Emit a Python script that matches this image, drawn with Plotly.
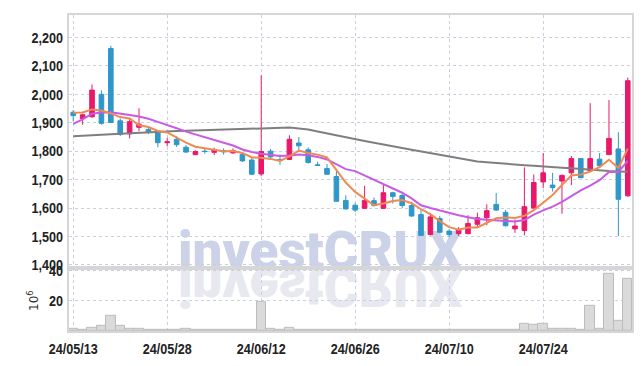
import plotly.graph_objects as go

dates = ["24/05/13", "24/05/14", "24/05/16", "24/05/17", "24/05/20", "24/05/21", "24/05/22", "24/05/23", "24/05/24", "24/05/27",
         "24/05/28", "24/05/29", "24/05/30", "24/05/31", "24/06/03", "24/06/04", "24/06/05", "24/06/07", "24/06/10", "24/06/11",
         "24/06/12", "24/06/13", "24/06/14", "24/06/17", "24/06/18", "24/06/19", "24/06/20", "24/06/21", "24/06/24", "24/06/25",
         "24/06/26", "24/06/27", "24/06/28", "24/07/01", "24/07/02", "24/07/03", "24/07/04", "24/07/05", "24/07/08", "24/07/09",
         "24/07/10", "24/07/11", "24/07/12", "24/07/15", "24/07/16", "24/07/17", "24/07/18", "24/07/19", "24/07/22", "24/07/23",
         "24/07/24", "24/07/25", "24/07/26", "24/07/29", "24/07/30", "24/07/31", "24/08/01", "24/08/02", "24/08/05", "24/08/06"]

open_ = [1937, 1915, 1921, 2000, 2161, 1907, 1861, 1884, 1876, 1870,
         1830, 1842, 1814, 1788, 1800, 1796, 1802, 1794, 1789, 1769,
         1720, 1800, 1771, 1771, 1829, 1805, 1752, 1739, 1711, 1627,
         1610, 1599, 1626, 1599, 1654, 1644, 1609, 1577, 1507, 1563,
         1519, 1510, 1510, 1543, 1566, 1613, 1585, 1527, 1521, 1600,
         1692, 1681, 1695, 1724, 1774, 1731, 1772, 1788, 1808, 1643]
high = [1945, 1932, 2035, 2014, 2171, 1915, 1915, 1951, 1887, 1873,
        1847, 1853, 1822, 1803, 1808, 1812, 1810, 1810, 1797, 1778,
        2067, 1808, 1789, 1856, 1850, 1814, 1763, 1755, 1731, 1645,
        1617, 1678, 1637, 1681, 1657, 1650, 1622, 1594, 1583, 1573,
        1526, 1533, 1575, 1584, 1613, 1653, 1594, 1560, 1743, 1718,
        1793, 1724, 1718, 1783, 1776, 1969, 1793, 1980, 1867, 2059]
low = [1905, 1893, 1918, 1893, 1900, 1853, 1845, 1870, 1860, 1814,
       1817, 1815, 1794, 1786, 1791, 1786, 1788, 1791, 1762, 1718,
       1712, 1775, 1752, 1769, 1805, 1757, 1749, 1718, 1622, 1595,
       1586, 1597, 1605, 1597, 1616, 1600, 1570, 1502, 1504, 1513,
       1498, 1502, 1508, 1533, 1540, 1590, 1535, 1513, 1504, 1598,
       1670, 1658, 1580, 1681, 1705, 1728, 1746, 1786, 1502, 1640]
close = [1925, 1928, 2015, 1898, 1901, 1859, 1904, 1895, 1866, 1830,
         1833, 1823, 1797, 1799, 1799, 1805, 1798, 1802, 1766, 1719,
         1799, 1780, 1768, 1842, 1819, 1760, 1750, 1719, 1624, 1597,
         1593, 1627, 1609, 1654, 1641, 1609, 1572, 1504, 1569, 1515,
         1507, 1525, 1546, 1566, 1591, 1593, 1538, 1537, 1605, 1690,
         1724, 1672, 1715, 1774, 1707, 1774, 1749, 1845, 1631, 2048]

ma_short = [1935, 1936, 1947, 1943, 1933, 1920, 1915, 1891, 1885, 1871,
            1866, 1849, 1830, 1816, 1810, 1805, 1800, 1801, 1794, 1778,
            1777, 1773, 1766, 1782, 1802, 1794, 1788, 1778, 1734, 1690,
            1657, 1632, 1610, 1616, 1625, 1628, 1617, 1596, 1579, 1554,
            1533, 1524, 1532, 1532, 1547, 1564, 1567, 1565, 1573, 1593,
            1619, 1646, 1681, 1715, 1718, 1728, 1744, 1770, 1741, 1809]
ma_mid = [1896, 1912, 1932, 1936, 1937, 1931, 1927, 1922, 1914, 1903,
          1893, 1881, 1869, 1859, 1850, 1840, 1831, 1820, 1806, 1797,
          1791, 1786, 1783, 1785, 1788, 1786, 1780, 1771, 1755, 1737,
          1730, 1715, 1701, 1684, 1670, 1654, 1634, 1610, 1600, 1591,
          1583, 1575, 1568, 1562, 1559, 1557, 1555, 1553, 1558, 1577,
          1592, 1605, 1622, 1643, 1662, 1679, 1698, 1727, 1727, 1766]
ma_long = [1853, 1855, 1858, 1859, 1860, 1861, 1863, 1865, 1866, 1868,
           1870, 1871, 1872, 1873, 1875, 1876, 1877, 1878, 1879, 1880,
           1882, 1883, 1884, 1883, 1880, 1876, 1869, 1862, 1855, 1848,
           1842, 1836, 1830, 1823, 1817, 1811, 1805, 1799, 1793, 1786,
           1780, 1775, 1769, 1764, 1761, 1758, 1755, 1753, 1751, 1749,
           1746, 1744, 1742, 1740, 1737, 1734, 1731, 1730, 1729, 1728]

volume = [1.3, 0.6, 2.0, 3.2, 10.3, 3.2, 1.5, 1.2, 0.8, 0.8,
          0.8, 0.6, 1.4, 0.6, 0.5, 0.5, 0.9, 0.9, 0.6, 0.5,
          19.2, 1.3, 0.8, 2.0, 0.7, 0.6, 0.5, 0.7, 0.7, 0.6,
          0.6, 0.8, 0.5, 0.6, 0.5, 0.7, 0.8, 1.0, 1.0, 0.7,
          0.6, 0.5, 0.6, 0.6, 0.7, 0.7, 0.6, 0.5, 5.0, 3.9,
          4.5, 1.3, 1.3, 1.3, 0.6, 16.8, 1.3, 38.0, 7.0, 34.6]

tick_dates = ["24/05/13", "24/05/28", "24/06/12", "24/06/26", "24/07/10", "24/07/24"]
price_ticks = [1400, 1500, 1600, 1700, 1800, 1900, 2000, 2100, 2200]
volume_ticks = [20, 40]

UP = "#e8196a"
DOWN = "#2f97c9"
GRID = "#c9cee0"
AXLINE = "#d6d6d6"
TICKFONT = dict(family="Liberation Sans, Arial, sans-serif", size=15, color="#222222", weight="bold")

fig = go.Figure()

fig.add_trace(go.Candlestick(
    x=dates, open=open_, high=high, low=low, close=close,
    increasing=dict(line=dict(color=UP, width=1), fillcolor=UP),
    decreasing=dict(line=dict(color=DOWN, width=1), fillcolor=DOWN),
    xaxis="x", yaxis="y", showlegend=False, hoverinfo="skip"))

fig.add_trace(go.Scatter(x=dates, y=ma_long, mode="lines",
                         line=dict(color="#7f7f7f", width=2), xaxis="x", yaxis="y", showlegend=False))
fig.add_trace(go.Scatter(x=dates, y=ma_mid, mode="lines",
                         line=dict(color="#c95ae6", width=2), xaxis="x", yaxis="y", showlegend=False))
fig.add_trace(go.Scatter(x=dates, y=ma_short, mode="lines",
                         line=dict(color="#ee8a52", width=2), xaxis="x", yaxis="y", showlegend=False))

fig.add_trace(go.Bar(x=dates, y=volume, marker=dict(color="#dadada", line=dict(color="#bcbcbc", width=1)),
                     xaxis="x2", yaxis="y2", showlegend=False))

common_x = dict(type="category", range=[-0.45, 59.45], tickvals=tick_dates, ticktext=tick_dates,
                showgrid=True, gridcolor=GRID, griddash="dot", gridwidth=1,
                showline=True, linecolor=AXLINE, linewidth=2, mirror=True, ticks="",
                zeroline=False, tickfont=TICKFONT)

fig.update_layout(
    width=643, height=366,
    margin=dict(l=69, r=10, t=9, b=29),
    paper_bgcolor="white", plot_bgcolor="white",
    showlegend=False, bargap=0,
    xaxis=dict(**common_x, anchor="y", showticklabels=False, rangeslider=dict(visible=False)),
    xaxis2=dict(**common_x, anchor="y2", matches="x", showticklabels=True, ticklabelstandoff=3),
    yaxis=dict(domain=[0.2, 1], range=[1390, 2279], tickvals=price_ticks, tickformat=",",
               showgrid=True, gridcolor=GRID, griddash="dot", gridwidth=1, zeroline=False,
               showline=True, linecolor=AXLINE, linewidth=2, mirror=True, ticks="",
               tickfont=TICKFONT, ticklabelstandoff=1),
    yaxis2=dict(domain=[0, 0.2], range=[0, 41.9], tickvals=volume_ticks,
                showgrid=True, gridcolor=GRID, griddash="dot", gridwidth=1, zeroline=False,
                showline=True, linecolor=AXLINE, linewidth=2, mirror=True, ticks="",
                tickfont=TICKFONT, ticklabelstandoff=1),
    annotations=[
        dict(text="investCRUX", xref="paper", yref="paper", x=0.446, y=0.254,
             xanchor="center", yanchor="middle", showarrow=False,
             font=dict(family="Roboto", size=53, color="#ccd3e8", weight=900)),
        dict(text="investCRUX", xref="paper", yref="paper", x=0.446, y=0.140,
             xanchor="center", yanchor="middle", showarrow=False,
             font=dict(family="Roboto", size=53, color="#e7e8f0", weight=900)),
        dict(text="10<sup>6</sup>", xref="paper", yref="paper", x=-0.064, y=0.098,
             xanchor="center", yanchor="middle", showarrow=False, textangle=-90,
             font=dict(family="DejaVu Sans", size=12, color="#333333")),
    ],
)

post = """
(function(){
  var gd = document.getElementById('{plot_id}');
  var done = false;
  function fix(){
    if (done) return;
    var below = gd.querySelector('.layer-below');
    var a0 = gd.querySelector('.infolayer .annotation[data-index="0"]');
    var a1 = gd.querySelector('.infolayer .annotation[data-index="1"]');
    if (!below || !a0 || !a1) { setTimeout(fix, 30); return; }
    done = true;
    var t = a1.querySelector('text');
    if (t) {
      t.style.transformBox = 'fill-box';
      t.style.transformOrigin = 'center';
      t.style.transform = 'scaleY(-1)';
    }
    below.appendChild(a1);
    below.appendChild(a0);
    var labels = gd.querySelectorAll('.xaxislayer-above text, .yaxislayer-above text');
    labels.forEach(function(el){
      var w = el.getComputedTextLength();
      if (w > 0) {
        el.setAttribute('textLength', (w * 0.84).toFixed(2));
        el.setAttribute('lengthAdjust', 'spacingAndGlyphs');
      }
    });
  }
  fix();
})();
"""

fig.write_html("out.html", post_script=post)
